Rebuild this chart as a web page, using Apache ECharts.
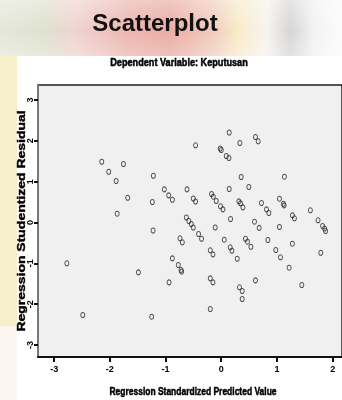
<!DOCTYPE html>
<html>
<head>
<meta charset="utf-8">
<script src="https://cdn.jsdelivr.net/npm/echarts@6/dist/echarts.min.js"></script>
<style>
  html, body { margin: 0; padding: 0; background: #fff; }
  #chart { width: 342px; height: 400px; }
</style>
</head>
<body>
<div id="chart"></div>
<script>
// Regression Standardized Predicted Value (x) / Studentized Residual (y)
const predicted = [
  -2.145, -2.020, -1.756, -1.887, -1.219, -1.679, -1.237, -1.022, -0.944, -0.878, -0.615, -1.869, -1.224, -0.627, -0.582, -0.538, -0.502,
  0.143, -0.461, 0.335, 0.615, 0.663, -0.018, 0.000, 0.090, 0.138, 0.358, 1.134, 0.143, 0.496, -0.502, -0.461, -0.174, -0.143, -0.090,
  -0.013, 0.030, 0.317, 0.346, 0.389, 0.722, 0.812, 0.855, 1.045, 1.116, 1.129, 1.278, 1.314, 1.600, 1.738, 1.819, 1.855, 1.873,
  0.167, 0.597, 0.681, 1.045, -0.108, -0.407, -0.353, 0.054, -0.197, -0.149, 0.161, 0.192, 0.287, 0.435, 0.471, 0.532, 0.837,
  0.980, 1.063, 1.278, 1.219, 1.787, -0.197, -0.149, 0.615, 0.328, 0.376, 0.376, 1.446, -0.197, -0.740, -0.699, -2.772, -1.487,
  -0.878, -0.771, -0.722, -0.711, -0.937, -2.486, -1.249
];
const residual = [
  1.489, 1.244, 1.433, 1.016, 1.146, 0.607, 0.502, 0.813, 0.666, 0.558, 0.813, 0.216, -0.196, 0.122, 0.037, -0.037, -0.122,
  2.204, 1.891, 1.947, 2.094, 1.989, 1.812, 1.776, 1.629, 1.580, 1.114, 1.122, 0.820, 0.869, 0.588, 0.514, 0.698, 0.632, 0.527,
  0.397, 0.323, 0.519, 0.470, 0.372, 0.478, 0.323, 0.233, 0.583, 0.460, 0.421, 0.176, 0.103, 0.299, 0.054, -0.086, -0.147, -0.208,
  0.086, 0.020, -0.130, -0.110, -0.122, -0.282, -0.397, -0.421, -0.681, -0.779, -0.607, -0.691, -0.887, -0.397, -0.470, -0.593, -0.429,
  -0.674, -0.852, -0.519, -1.107, -0.740, -1.367, -1.465, -1.416, -1.587, -1.678, -1.874, -1.531, -2.119, -0.387, -0.485, -0.999, -1.220,
  -0.877, -1.041, -1.163, -1.205, -1.465, -2.265, -2.307
];
const xTicks = [-3, -2, -1, 0, 1, 2];
const yTicks = [-3, -2, -1, 0, 1, 2, 3];

const points = predicted.map((v, i) => [v, residual[i]]);

const font = 'Arial, "Liberation Sans", sans-serif';
const chart = echarts.init(document.getElementById('chart'));
chart.setOption({
  animation: false,
  backgroundColor: '#fbf6f0',
  graphic: [
    // blurred slide background behind the title
    {type: 'rect', z: -10, silent: true, shape: {x: 0, y: 0, width: 342, height: 60},
      style: {fill: new echarts.graphic.LinearGradient(0, 0, 1, 0, [
        {offset: 0, color: '#e4e8da'},
        {offset: 0.12, color: '#dfe2cf'},
        {offset: 0.22, color: '#f0d3d0'},
        {offset: 0.38, color: '#ebb5ad'},
        {offset: 0.5, color: '#e9aca3'},
        {offset: 0.62, color: '#f1cbbd'},
        {offset: 0.7, color: '#f8ecca'},
        {offset: 0.78, color: '#f7f3ee'},
        {offset: 0.85, color: '#d6d6d6'},
        {offset: 0.92, color: '#f3f3f3'},
        {offset: 1, color: '#fbfbfb'}
      ])}},
    {type: 'rect', z: -9, silent: true, shape: {x: 0, y: 0, width: 342, height: 60},
      style: {fill: new echarts.graphic.LinearGradient(0, 0, 0, 1, [
        {offset: 0, color: 'rgba(255,255,255,0.35)'},
        {offset: 0.5, color: 'rgba(255,255,255,0)'},
        {offset: 1, color: 'rgba(255,255,255,0.3)'}
      ])}},
    {type: 'rect', z: -9, silent: true, shape: {x: 0, y: 56, width: 18, height: 270},
      style: {fill: '#f7efc9'}},
    {type: 'rect', z: -8, silent: true, shape: {x: 17, y: 56, width: 325, height: 344},
      style: {fill: '#ffffff'}},
    {type: 'text', x: 155, y: 24, z: 50, silent: true,
      style: {text: 'Scatterplot', font: 'bold 24px ' + font,
        fill: '#111', align: 'center', verticalAlign: 'middle'}},
    {type: 'text', x: 179, y: 63, z: 50, scaleX: 0.83, silent: true,
      style: {text: 'Dependent Variable: Keputusan', font: 'bold 11px ' + font,
        fill: '#000', stroke: '#000', lineWidth: 0.5, align: 'center', verticalAlign: 'middle'}},
    {type: 'text', x: 193, y: 392, z: 50, scaleX: 0.77, silent: true,
      style: {text: 'Regression Standardized Predicted Value', font: 'bold 11px ' + font,
        fill: '#000', stroke: '#000', lineWidth: 0.5, align: 'center', verticalAlign: 'middle'}},
    {type: 'text', x: 22, y: 221, z: 50, rotation: Math.PI / 2, scaleX: 1.27, silent: true,
      style: {text: 'Regression Studentized Residual', font: 'bold 11px ' + font,
        fill: '#000', stroke: '#000', lineWidth: 0.4, align: 'center', verticalAlign: 'middle'}}
  ],
  grid: {
    left: 38, top: 85, right: 0, bottom: 43,
    show: true, backgroundColor: '#f0f0f0', borderColor: '#1e1e1e', borderWidth: 1.5
  },
  xAxis: {
    type: 'value', min: -3.29, max: 2.168,
    axisLine: {onZero: false, lineStyle: {color: '#111', width: 2}},
    axisTick: {customValues: xTicks, length: 5, lineStyle: {color: '#111', width: 2}},
    axisLabel: {customValues: xTicks, margin: 8, fontSize: 9, fontWeight: 'bold', color: '#000',
      fontFamily: font},
    splitLine: {show: false}
  },
  yAxis: {
    type: 'value', min: -3.294, max: 3.368,
    axisLine: {show: true, onZero: false, lineStyle: {color: '#777', width: 2}},
    axisTick: {show: true, customValues: yTicks, length: 4, lineStyle: {color: '#111', width: 2}},
    axisLabel: {customValues: yTicks, margin: 3, rotate: 90, fontSize: 9, fontWeight: 'bold', color: '#000',
      fontFamily: font},
    splitLine: {show: false}
  },
  series: [{
    type: 'scatter',
    data: points,
    symbol: 'circle',
    symbolSize: [4, 5],
    itemStyle: {color: 'rgba(0,0,0,0)', borderColor: '#2a2a2a', borderWidth: 1}
  }]
});
</script>
</body>
</html>
